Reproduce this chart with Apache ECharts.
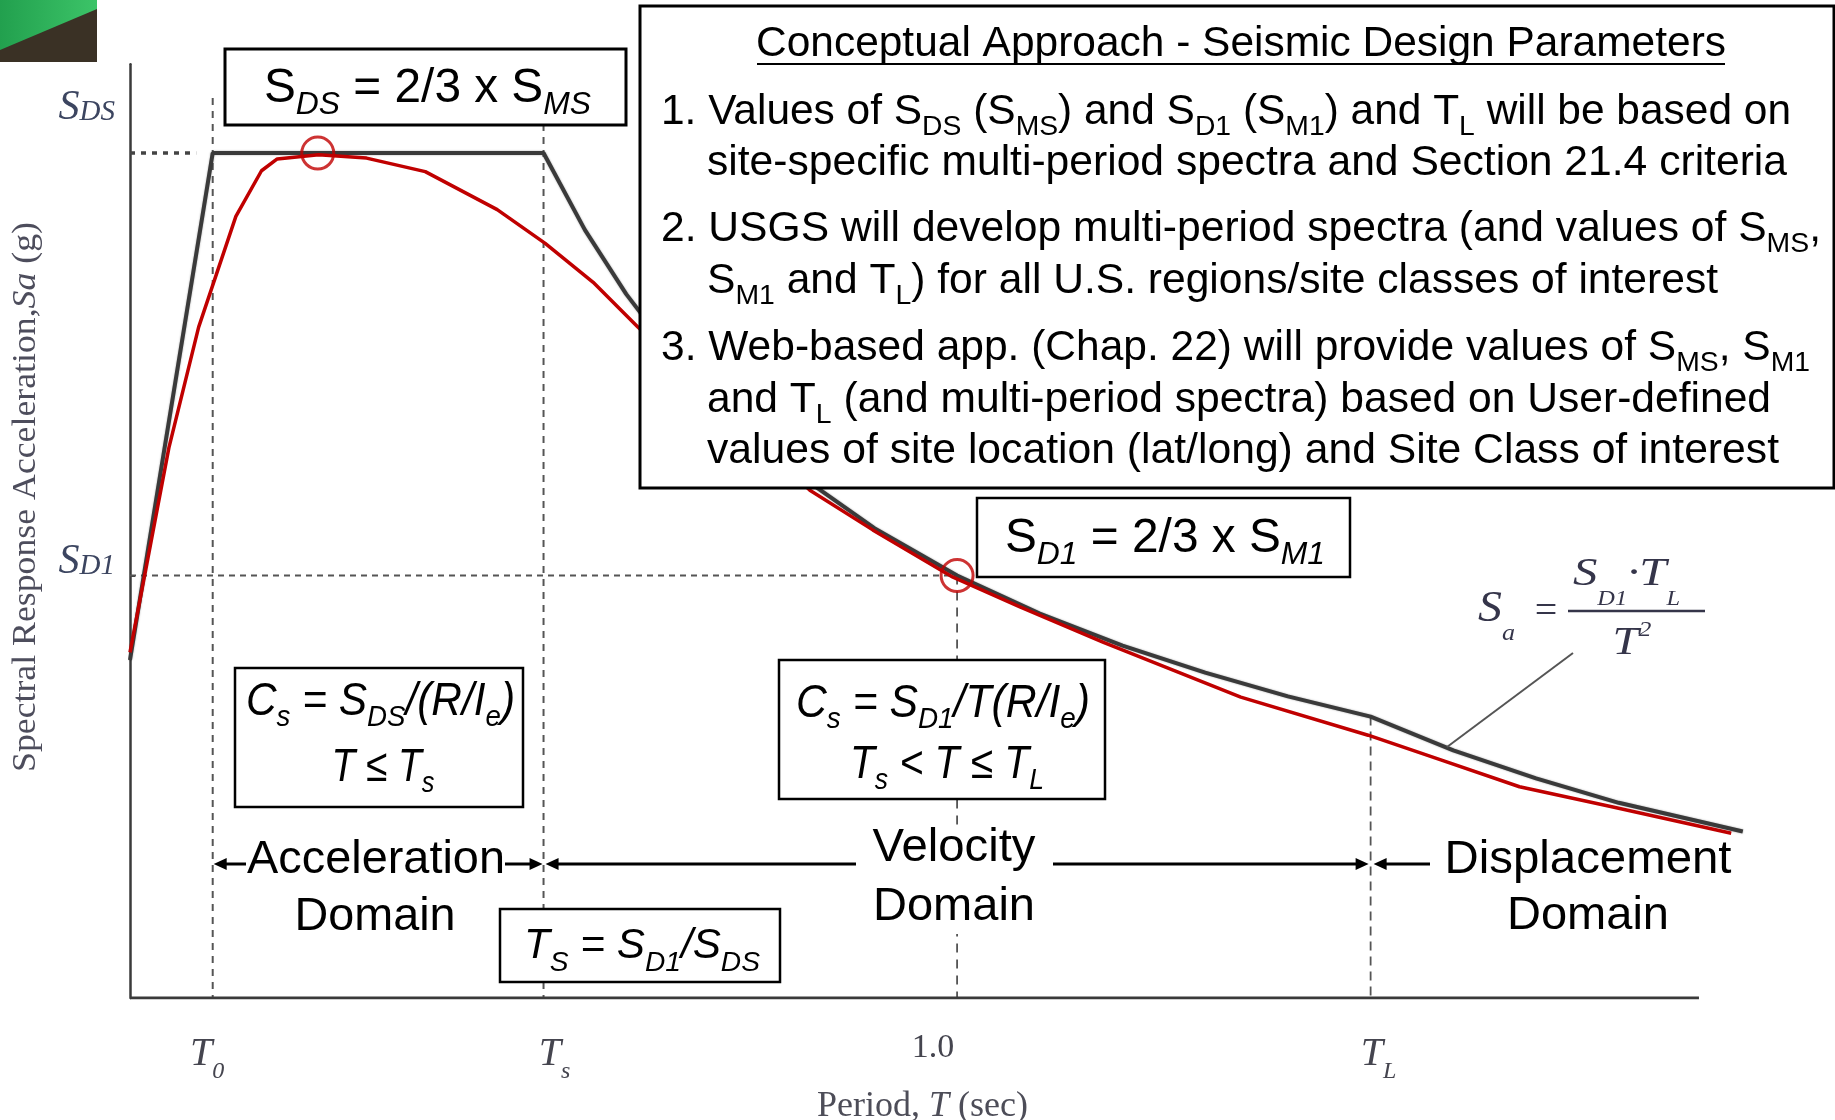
<!DOCTYPE html>
<html><head><meta charset="utf-8">
<script src="https://cdn.jsdelivr.net/npm/echarts@6/dist/echarts.min.js"></script>
<style>html,body{margin:0;padding:0;background:#fff;overflow:hidden}#c{width:1835px;height:1120px}</style>
</head><body><div id="c"></div>
<script>
// ---------------- data ----------------
const periodDesign = [0, 0.1, 0.5, 0.55, 0.6, 0.65, 0.7, 0.8, 0.9, 1.0, 1.1, 1.2, 1.3, 1.4, 1.5, 1.6, 1.7, 1.8, 1.95];
const saDesign     = [0.40, 1.00, 1.00, 0.909, 0.833, 0.769, 0.714, 0.625, 0.556, 0.50, 0.455, 0.417, 0.385, 0.357, 0.333, 0.293, 0.260, 0.231, 0.197];
const periodSite = [0, 0.047, 0.083, 0.128, 0.159, 0.178, 0.228, 0.286, 0.357, 0.444, 0.502, 0.560, 0.614, 0.822, 0.898, 0.995, 1.076, 1.177, 1.343, 1.497, 1.584, 1.680, 1.793, 1.936];
const saSite     = [0.409, 0.651, 0.794, 0.925, 0.979, 0.993, 0.998, 0.994, 0.978, 0.933, 0.893, 0.847, 0.794, 0.601, 0.554, 0.498, 0.463, 0.421, 0.356, 0.311, 0.282, 0.250, 0.226, 0.195];
const markPeriods = [0.227, 1.0];
const markSa      = [1.0, 0.5];
const SDS = 1.0, SD1 = 0.5;
const T0 = 0.1, TS = 0.5, T1 = 1.0, TL = 1.5;
const guideTop = 1.065;       // top of the T0 / Ts guide lines
const sdsDotEnd = 0.08;       // end of the dotted SDS guide
const xAxisEnd = 1.897;       // where the drawn period axis line stops
const xMax = 1.95, yMax = 1.105;
const xTickValues = [T0, TS, T1, TL];
const xTickLabels = [['T', '0'], ['T', 's'], ['1.0', ''], ['T', 'L']];
const yTickValues = [SD1, SDS];
const yTickLabels = [['S', 'D1'], ['S', 'DS']];

// ---------------- styling / layout ----------------
const SANS = 'Liberation Sans', SERIF = 'Liberation Serif';
const LAB = '#45454f', YLAB = '#3c4560';
const xShift = [-5.5, 11, -24, 8];
const yUp = [14, 45];

const chart = echarts.init(document.getElementById('c'));

const xRich = {};
xTickValues.forEach((v, i) => {
  const d = xShift[i];
  const lp = d > 0 ? 2 * d : 0, rp = d < 0 ? -2 * d : 0;
  if (xTickLabels[i][1] !== '') {
    xRich['a' + i] = {fontFamily: SERIF, fontStyle: 'italic', fontSize: 40, lineHeight: 44, color: LAB, padding: [0, 0, 0, lp]};
    xRich['b' + i] = {fontFamily: SERIF, fontStyle: 'italic', fontSize: 24, lineHeight: 44, color: LAB, padding: [36, rp, 0, 0]};
  } else {
    xRich['a' + i] = {fontFamily: SERIF, fontSize: 34, lineHeight: 44, color: LAB, padding: [0, rp, 12, lp]};
  }
});
const yRich = {};
yTickValues.forEach((v, i) => {
  const P = 2 * yUp[i];
  yRich['a' + i] = {fontFamily: SERIF, fontStyle: 'italic', fontSize: 42, color: YLAB, padding: [0, 0, P, 0]};
  yRich['b' + i] = {fontFamily: SERIF, fontStyle: 'italic', fontSize: 29, color: YLAB, padding: [9, 0, P, 0]};
});

function idx(arr, v) { return arr.findIndex(t => Math.abs(t - v) < 1e-9); }

const guides = [
  {pts: [[T0, guideTop], [T0, 0]], dash: [7, 6], w: 2, c: '#555'},
  {pts: [[TS, guideTop], [TS, 0]], dash: [7, 6], w: 2, c: '#555'},
  {pts: [[T1, SD1], [T1, 0]], dash: [9, 7], w: 1.8, c: '#555'},
  {pts: [[TL, saDesign[periodDesign.indexOf(TL)]], [TL, 0]], dash: [9, 6], w: 1.8, c: '#555'},
  {pts: [[0, SD1], [T1, SD1]], dash: [6, 5], w: 2, c: '#555'},
  {pts: [[0, SDS], [sdsDotEnd, SDS]], dash: [5, 6], w: 3.5, c: '#444'},
  {pts: [[0, 0], [xAxisEnd, 0]], dash: 'solid', w: 3.2, c: '#3a3a3a'}
];

const series = guides.map((g, i) => ({
  type: 'line', name: 'guide' + i, data: g.pts, symbol: 'none', silent: true, z: 2,
  lineStyle: {color: g.c, width: g.w, type: g.dash}
}));
series.push({
  type: 'line', name: 'Design spectrum', data: periodDesign.map((t, i) => [t, saDesign[i]]),
  symbol: 'none', clip: false, z: 3,
  lineStyle: {color: '#3a3a3a', width: 4, shadowBlur: 2, shadowColor: 'rgba(0,0,0,0.35)'}
});
series.push({
  type: 'line', name: 'Site-specific spectrum', data: periodSite.map((t, i) => [t, saSite[i]]),
  symbol: 'none', clip: false, z: 4,
  lineStyle: {color: '#c00000', width: 3.5}
});
series.push({
  type: 'scatter', name: 'marks', data: markPeriods.map((t, i) => [t, markSa[i]]),
  symbol: 'circle', symbolSize: 32, z: 5, silent: true,
  itemStyle: {color: 'rgba(0,0,0,0)', borderColor: '#c00000', borderWidth: 3}
});

chart.setOption({
  animation: false,
  backgroundColor: '#fff',
  grid: {left: 130, right: 92.2, top: 64.3, bottom: 122, outerBoundsMode: 'none', containLabel: false},
  xAxis: {
    type: 'value', min: 0, max: xMax,
    splitLine: {show: false}, axisTick: {show: false},
    axisLine: {show: false},
    axisLabel: {
      customValues: xTickValues, margin: 34, rich: xRich,
      formatter: v => { const i = idx(xTickValues, v); if (i < 0) return ''; const [a, b] = xTickLabels[i]; return b ? `{a${i}|${a}}{b${i}|${b}}` : `{a${i}|${a}}`; }
    },
    name: '{n|Period, }{ni|T}{m| (sec)}', nameLocation: 'middle', nameGap: 85,
    nameTextStyle: {rich: {
      n: {fontFamily: SERIF, fontSize: 36, lineHeight: 40, color: '#4d4d58'},
      ni: {fontFamily: SERIF, fontStyle: 'italic', fontSize: 36, lineHeight: 40, color: '#4d4d58'},
      m: {fontFamily: SERIF, fontSize: 36, lineHeight: 40, color: '#4d4d58', padding: [0, 28, 0, 0]}
    }}
  },
  yAxis: {
    type: 'value', min: 0, max: yMax,
    splitLine: {show: false},
    axisTick: {show: true, inside: true, length: 5, customValues: yTickValues, lineStyle: {color: '#3a3a3a', width: 2}},
    axisLine: {show: true, onZero: false, lineStyle: {color: '#3a3a3a', width: 2.5}},
    axisLabel: {
      customValues: yTickValues, margin: 15, rich: yRich,
      formatter: v => { const i = idx(yTickValues, v); if (i < 0) return ''; const [a, b] = yTickLabels[i]; return `{a${i}|${a}}{b${i}|${b}}`; }
    }
  },
  series: series
});

// ---------------- annotations ----------------
const mctx = document.createElement('canvas').getContext('2d');
function T(opt) {
  const str = opt.tokens.map(t => '{' + t[0] + '|' + t[1] + '}').join('');
  let sx = 1;
  if (opt.width) {
    let w = 0;
    opt.tokens.forEach(t => {
      const st = opt.styles[t[0]];
      mctx.font = (st.fontStyle || 'normal') + ' normal ' + st.fontSize + 'px "' + st.fontFamily + '"';
      w += mctx.measureText(t[1]).width + (st.padding ? st.padding[1] + st.padding[3] : 0);
    });
    sx = opt.width / w;
  }
  return {type: 'text', x: opt.x, y: opt.y, rotation: opt.rotation || 0, scaleX: sx, z: 100, z2: 10, silent: true,
    style: {text: str, rich: opt.styles, align: opt.align || 'center', verticalAlign: 'middle', fill: opt.fill || '#000'}};
}
function box(x, y, w, h, lw) {
  return {type: 'rect', shape: {x: x, y: y, width: w, height: h}, z: 100, z2: 0, silent: true,
    style: {fill: '#fff', stroke: '#000', lineWidth: lw || 2.5}};
}
function seg(x1, y1, x2, y2, w, c) {
  return {type: 'line', shape: {x1, y1, x2, y2}, z: 100, z2: 5, silent: true, style: {stroke: c || '#000', lineWidth: w}};
}
function arrow(xFrom, xTip, y) {
  const dir = xTip > xFrom ? 1 : -1, hl = 13, hw = 6;
  return [
    seg(xFrom, y, xTip - dir * hl + dir * 1, y, 3),
    {type: 'polygon', shape: {points: [[xTip, y], [xTip - dir * hl, y - hw], [xTip - dir * hl, y + hw]]}, z: 100, z2: 6, silent: true, style: {fill: '#000'}}
  ];
}

const boxStyles = {
  n: {fontFamily: SANS, fontSize: 42, lineHeight: 52},
  s: {fontFamily: SANS, fontSize: 28, lineHeight: 52, padding: [30, 0, 0, 0]}
};
const eqStyles = {
  n: {fontFamily: SANS, fontSize: 48, lineHeight: 60},
  si: {fontFamily: SANS, fontStyle: 'italic', fontSize: 32, lineHeight: 60, padding: [32, 0, 0, 0]}
};
const itStyles = {
  i: {fontFamily: SANS, fontStyle: 'italic', fontSize: 46, lineHeight: 58},
  is: {fontFamily: SANS, fontStyle: 'italic', fontSize: 30, lineHeight: 58, padding: [32, 0, 0, 0]},
  j: {fontFamily: SANS, fontStyle: 'italic', fontSize: 42, lineHeight: 56},
  js: {fontFamily: SANS, fontStyle: 'italic', fontSize: 28, lineHeight: 56, padding: [34, 0, 0, 0]}
};
const domStyles = {d: {fontFamily: SANS, fontSize: 47, lineHeight: 56}};
const fmStyles = {
  S: {fontFamily: SERIF, fontStyle: 'italic', fontSize: 44, lineHeight: 50},
  a: {fontFamily: SERIF, fontStyle: 'italic', fontSize: 24, lineHeight: 50, padding: [50, 0, 0, 0]},
  g: {fontFamily: SERIF, fontStyle: 'italic', fontSize: 40, lineHeight: 50},
  gs: {fontFamily: SERIF, fontStyle: 'italic', fontSize: 20, lineHeight: 50, padding: [52, 0, 0, 0]},
  gp: {fontFamily: SERIF, fontStyle: 'italic', fontSize: 22, lineHeight: 50, padding: [0, 0, 26, 0]},
  e: {fontFamily: SERIF, fontSize: 40, lineHeight: 50}
};
const ytStyles = {
  y: {fontFamily: SERIF, fontSize: 33, lineHeight: 40},
  yi: {fontFamily: SERIF, fontStyle: 'italic', fontSize: 33, lineHeight: 40}
};

const px = v => chart.convertToPixel({xAxisIndex: 0}, v);
const xT0 = px(T0), xTs = px(TS), xTL = px(TL);
const arrowY = 864;

const els = [];
// logo corner
els.push({type: 'rect', shape: {x: 0, y: 0, width: 97, height: 62}, z: 100, silent: true, style: {fill: '#3a3125'}});
els.push({type: 'polygon', shape: {points: [[0, 0], [97, 0], [97, 9], [0, 50]]}, z: 100, z2: 1, silent: true,
  style: {fill: new echarts.graphic.LinearGradient(0, 0, 1, 0, [{offset: 0, color: '#22a04e'}, {offset: 1, color: '#3cc468'}])}});

// SDS box
els.push(box(225, 49, 401, 76, 3));
els.push(T({x: 427.5, y: 89, width: 327, styles: eqStyles, tokens: [['n', 'S'], ['si', 'DS'], ['n', ' = 2/3 x S'], ['si', 'MS']]}));

// big text box
els.push(box(640, 6, 1194, 482, 3));
els.push(T({x: 1241, y: 44, width: 970, styles: boxStyles, tokens: [['n', 'Conceptual Approach - Seismic Design Parameters']]}));
els.push(seg(757, 64, 1725, 64, 2));
const L = [
  {x: 661, y: 112, w: 1130, t: [['n', '1. Values of S'], ['s', 'DS'], ['n', ' (S'], ['s', 'MS'], ['n', ') and S'], ['s', 'D1'], ['n', ' (S'], ['s', 'M1'], ['n', ') and T'], ['s', 'L'], ['n', ' will be based on']]},
  {x: 707, y: 163, w: 1080, t: [['n', 'site-specific multi-period spectra and Section 21.4 criteria']]},
  {x: 661, y: 229, w: 1160, t: [['n', '2. USGS will develop multi-period spectra (and values of S'], ['s', 'MS'], ['n', ',']]},
  {x: 707, y: 281, w: 1011, t: [['n', 'S'], ['s', 'M1'], ['n', ' and T'], ['s', 'L'], ['n', ') for all U.S. regions/site classes of interest']]},
  {x: 661, y: 348, w: 1149, t: [['n', '3. Web-based app. (Chap. 22) will provide values of S'], ['s', 'MS'], ['n', ', S'], ['s', 'M1']]},
  {x: 707, y: 400, w: 1064, t: [['n', 'and T'], ['s', 'L'], ['n', ' (and multi-period spectra) based on User-defined']]},
  {x: 707, y: 451, w: 1072, t: [['n', 'values of site location (lat/long) and Site Class of interest']]}
];
L.forEach(l => els.push(T({x: l.x, y: l.y, width: l.w, align: 'left', styles: boxStyles, tokens: l.t})));

// SD1 box
els.push(box(977, 498, 373, 79, 2.5));
els.push(T({x: 1165, y: 539, width: 320, styles: eqStyles, tokens: [['n', 'S'], ['si', 'D1'], ['n', ' = 2/3 x S'], ['si', 'M1']]}));

// Cs box 1
els.push(box(235, 668, 288, 139, 2.5));
els.push(T({x: 380.5, y: 702, width: 269, styles: itStyles, tokens: [['i', 'C'], ['is', 's'], ['i', ' = S'], ['is', 'DS'], ['i', '/(R/I'], ['is', 'e'], ['i', ')']]}));
els.push(T({x: 383, y: 768, width: 103, styles: itStyles, tokens: [['i', 'T ≤ T'], ['is', 's']]}));
// Cs box 2
els.push(box(779, 660, 326, 139, 2.5));
els.push(T({x: 943, y: 704, width: 294, styles: itStyles, tokens: [['i', 'C'], ['is', 's'], ['i', ' = S'], ['is', 'D1'], ['i', '/T(R/I'], ['is', 'e'], ['i', ')']]}));
els.push(T({x: 947, y: 765, width: 194, styles: itStyles, tokens: [['i', 'T'], ['is', 's'], ['i', ' < T ≤ T'], ['is', 'L']]}));
// Ts box
els.push(box(500, 909, 280, 73, 2.5));
els.push(T({x: 642, y: 946, width: 236, styles: itStyles, tokens: [['j', 'T'], ['js', 'S'], ['j', ' = S'], ['js', 'D1'], ['j', '/S'], ['js', 'DS']]}));

// mask behind Velocity / Domain
els.push({type: 'rect', shape: {x: 868, y: 826, width: 172, height: 108}, z: 100, z2: 0, silent: true, style: {fill: '#fff'}});
// domain labels
[['Acceleration', 376, 860, 258], ['Domain', 375, 917, 161], ['Velocity', 954, 848, 163], ['Domain', 954, 907, 162],
 ['Displacement', 1588, 860, 287], ['Domain', 1588, 916, 162]].forEach(d =>
  els.push(T({x: d[1], y: d[2], width: d[3], styles: domStyles, tokens: [['d', d[0]]]})));
// arrows
els.push(...arrow(246, xT0 + 1, arrowY));
els.push(...arrow(505, xTs - 1, arrowY));
els.push(...arrow(856, xTs + 2, arrowY));
els.push(...arrow(1053, xTL - 2, arrowY));
els.push(...arrow(1430, xTL + 3, arrowY));

// Sa = SD1*TL / T^2 formula
const FC = '#35354a';
els.push(T({x: 1478, y: 609, width: 37, align: 'left', fill: FC, styles: fmStyles, tokens: [['S', 'S'], ['a', 'a']]}));
els.push(T({x: 1546, y: 612, fill: FC, styles: fmStyles, tokens: [['e', '=']]}));
els.push(T({x: 1573, y: 574, width: 107, align: 'left', fill: FC, styles: fmStyles, tokens: [['g', 'S'], ['gs', 'D1'], ['g', '·T'], ['gs', 'L']]}));
els.push(seg(1568, 611, 1705, 611, 2.5, FC));
els.push(T({x: 1632, y: 643, width: 39, fill: FC, styles: fmStyles, tokens: [['g', 'T'], ['gp', '2']]}));
els.push(seg(1447, 747, 1573, 653, 2, '#555'));

// y axis title
els.push(T({x: 26, y: 497, width: 550, rotation: Math.PI / 2, fill: '#4d4d5c', styles: ytStyles,
  tokens: [['y', 'Spectral Response Acceleration,'], ['yi', 'Sa'], ['y', ' (g)']]}));

chart.setOption({graphic: {elements: els}});
</script>
</body></html>
